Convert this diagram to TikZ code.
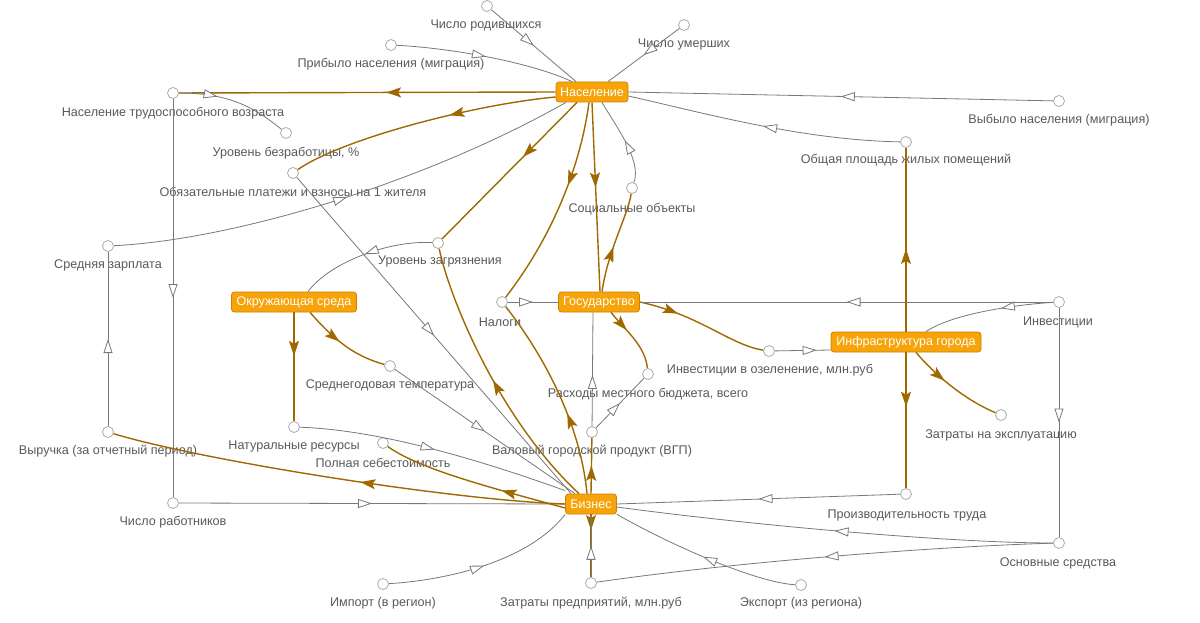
\documentclass[tikz,border=0pt]{standalone}
\usepackage{fontspec}
\setmainfont{Liberation Sans}
\usetikzlibrary{arrows.meta,decorations.markings}
\definecolor{brn}{RGB}{160,105,0}
\definecolor{org}{RGB}{247,163,10}
\definecolor{orgd}{RGB}{205,130,0}
\definecolor{gln}{RGB}{120,120,120}
\definecolor{txt}{RGB}{90,90,90}
\pgfdeclarelayer{bgl}
\pgfdeclarelayer{lines}
\pgfsetlayers{bgl,main,lines}
\tikzset{
 mainbox/.style={draw=orgd, fill=org, rounded corners=3pt, text=white, font=\fontsize{12.5}{14}\selectfont, minimum height=20pt, inner xsep=4pt, inner ysep=2pt, line width=0.8pt},
 var/.style={circle, draw=gray!65, fill=white, minimum size=11pt, inner sep=0pt, line width=0.8pt},
 lbl/.style={text=txt, font=\fontsize{12.6}{14}\selectfont, inner sep=1pt},
 flowln/.style={draw=brn, line width=1.4pt, postaction={decorate, decoration={markings, mark=at position #1 with {\arrow{Stealth[length=15pt,width=10pt,inset=3pt,color=brn]}}}}},
 flowln/.default=0.5,
 infl/.style={draw=gln, line width=0.8pt, postaction={decorate, decoration={markings, mark=at position #1 with {\arrow{Triangle[length=14pt,width=9pt,color=gln,fill=white]}}}}},
 infl/.default=0.5,
}
\begin{document}
\begin{tikzpicture}[x=1pt,y=-1pt]
\begin{pgfonlayer}{bgl}
\fill[white] (0,0) rectangle (1200,623);
\end{pgfonlayer}
\useasboundingbox (0,0) rectangle (1200,623);

% labels (lines are drawn over them)
\node[lbl] (lbir) at (486,25) {Число родившихся};
\node[lbl] (ldead) at (684,44) {Число умерших};
\node[lbl] (larr) at (391,64) {Прибыло населения (миграция)};
\node[lbl] (ltr) at (173,113) {Население трудоспособного возраста};
\node[lbl] (lunemp) at (286,153) {Уровень безработицы, \%};
\node[lbl] (ltax) at (293,192) {Обязательные платежи и взносы на 1 жителя};
\node[lbl] (ldep) at (1059,120) {Выбыло населения (миграция)};
\node[lbl] (larea) at (906,160) {Общая площадь жилых помещений};
\node[lbl] (lsoc) at (632,209) {Социальные объекты};
\node[lbl] (lsal) at (108,265) {Средняя зарплата};
\node[lbl] (lpoll) at (440,261) {Уровень загрязнения};
\node[lbl] (lnal) at (500,322) {Налоги};
\node[lbl] (linv) at (1058,322) {Инвестиции};
\node[lbl] (lgreen) at (770,370) {Инвестиции в озеленение, млн.руб};
\node[lbl] (lbud) at (648,394) {Расходы местного бюджета, всего};
\node[lbl] (loper) at (1001,435) {Затраты на эксплуатацию};
\node[lbl] (ltemp) at (390,385) {Среднегодовая температура};
\node[lbl] (lnat) at (294,446) {Натуральные ресурсы};
\node[lbl] (lcost) at (383,463) {Полная себестоимость};
\node[lbl] (lgdp) at (592,451) {Валовый городской продукт (ВГП)};
\node[lbl] (lrev) at (108,451) {Выручка (за отчетный период)};
\node[lbl] (lwork) at (173,522) {Число работников};
\node[lbl] (lprod) at (907,515) {Производительность труда};
\node[lbl] (lfix) at (1058,563) {Основные средства};
\node[lbl] (limp) at (383,603) {Импорт (в регион)};
\node[lbl] (lzp) at (591,603) {Затраты предприятий, млн.руб};
\node[lbl] (lexp) at (801,603) {Экспорт (из региона)};

% main nodes
\node[mainbox, minimum width=72pt] (nas) at (592,92) {Население};
\node[mainbox, minimum width=125pt] (env) at (294,302) {Окружающая среда};
\node[mainbox, minimum width=81pt] (gov) at (599,302) {Государство};
\node[mainbox, minimum width=150pt] (inf) at (906,342) {Инфраструктура города};
\node[mainbox, minimum width=51pt] (biz) at (591,504) {Бизнес};

% variables
\node[var] (vbir) at (487,6) {};
\node[var] (vdead) at (684,25) {};
\node[var] (varr) at (391,45) {};
\node[var] (vtr) at (173,93) {};
\node[var] (vunemp) at (286,133) {};
\node[var] (vtax) at (293,173) {};
\node[var] (vdep) at (1059,101) {};
\node[var] (varea) at (906,142) {};
\node[var] (vsoc) at (632,188) {};
\node[var] (vsal) at (108,246) {};
\node[var] (vpoll) at (438,243) {};
\node[var] (vnal) at (502,302) {};
\node[var] (vinv) at (1059,302) {};
\node[var] (vgreen) at (769,351) {};
\node[var] (vbud) at (648,374) {};
\node[var] (voper) at (1001,415) {};
\node[var] (vtemp) at (390,366) {};
\node[var] (vnat) at (294,427) {};
\node[var] (vcost) at (383,443) {};
\node[var] (vgdp) at (592,432) {};
\node[var] (vrev) at (108,432) {};
\node[var] (vwork) at (173,503) {};
\node[var] (vprod) at (906,494) {};
\node[var] (vfix) at (1059,543) {};
\node[var] (vimp) at (383,584) {};
\node[var] (vzp) at (591,583) {};
\node[var] (vexp) at (801,585) {};

\begin{pgfonlayer}{lines}
% into Население
\draw[infl=0.5] (vbir) -- ([xshift=-16pt]nas.north);
\draw[infl=0.5] (vdead) -- ([xshift=16pt]nas.north);
\draw[infl=0.5] (varr) .. controls (450,48) and (530,62) .. ([xshift=-20pt]nas.north);
\draw[infl=0.5] (vdep) -- (nas.east);
\draw[infl=0.5] (varea) .. controls (800,140) and (700,112) .. ([yshift=-4pt]nas.east);
\draw[infl=0.5] (vsoc) .. controls (642,160) and (615,125) .. ([xshift=10pt]nas.south);
\draw[infl=0.5] (vsal) .. controls (230,240) and (420,185) .. ([xshift=-26pt]nas.south);
% from Население
\draw[flowln=0.45] (nas.west) -- (vtr);
\draw[flowln=0.4] ([yshift=-5pt]nas.west) .. controls (470,105) and (340,140) .. (vtax);
\draw[flowln=0.45] (nas.south) -- ([xshift=1pt]gov.north);
\draw[flowln=0.4] ([xshift=-3pt]nas.south) .. controls (580,170) and (550,240) .. (vnal);
\draw[flowln=0.4] ([xshift=-15pt]nas.south) -- (vpoll);
% workforce
\draw[infl=0.35] (vtr) .. controls (230,93) and (255,108) .. (vunemp);
\draw[infl=0.5] (vtr) -- (vwork);
\draw[infl=0.5] (vwork) -- (biz.west);
\draw[infl=0.5] (vrev) -- (vsal);
\draw[flowln=0.45] (biz.west) .. controls (450,500) and (200,460) .. (vrev);
\draw[flowln=0.35] ([yshift=-4pt]biz.west) .. controls (500,490) and (420,470) .. (vcost);
% taxes payments
\draw[infl=0.5] (vtax) -- ([xshift=-20pt]biz.north);
% environment
\draw[flowln=0.4] (env.south) -- (vnat);
\draw[flowln=0.45] ([xshift=16pt]env.south) .. controls (330,335) and (350,355) .. (vtemp);
\draw[infl=0.5] (vtemp) -- ([xshift=-16pt]biz.north);
\draw[infl=0.5] (vnat) .. controls (380,430) and (480,460) .. ([yshift=3pt]biz.north west);
\draw[infl=0.5] (vpoll) .. controls (390,240) and (330,262) .. ([xshift=14pt]env.north);
\draw[flowln=0.5] ([xshift=-12pt]biz.north) .. controls (500,420) and (450,300) .. (vpoll);
% state
\draw[infl=0.5] (vnal) -- (gov.west);
\draw[flowln=0.4] ([xshift=-4pt]biz.north) .. controls (580,420) and (540,350) .. (vnal);
\draw[flowln=0.45] ([xshift=3pt]gov.north) .. controls (608,250) and (628,215) .. (vsoc);
\draw[flowln=0.3] (gov.east) .. controls (700,315) and (730,345) .. (vgreen);
\draw[flowln=0.35] ([xshift=12pt]gov.south) .. controls (625,330) and (645,345) .. (vbud);
\draw[infl=0.5] (vinv) -- (gov.east);
\draw[infl=0.45] (vgdp) -- ([xshift=-6pt]gov.south);
\draw[infl=0.5] (vgdp) -- (vbud);
\draw[flowln=0.5] (biz.north) -- (vgdp);
% infrastructure
\draw[infl=0.75] (vgreen) -- ([yshift=-8pt]inf.west);
\draw[infl=0.4] (vinv) .. controls (1010,305) and (950,315) .. ([xshift=20pt]inf.north);
\draw[flowln=0.45] (inf.north) -- (varea);
\draw[flowln=0.4] (inf.south) -- (vprod);
\draw[flowln=0.4] ([xshift=10pt]inf.south) .. controls (935,375) and (965,400) .. (voper);
\draw[infl=0.5] (vinv) -- (vfix);
% business
\draw[infl=0.5] (vprod) -- (biz.east);
\draw[infl=0.5] (vfix) .. controls (950,543) and (750,525) .. ([yshift=-3pt]biz.east);
\draw[infl=0.5] (vfix) .. controls (950,546) and (750,560) .. (vzp);
\draw[flowln=0.25] (biz.south) -- (vzp);
\draw[infl=0.5] (vzp) -- (biz.south);
\draw[infl=0.5] (vimp) .. controls (450,580) and (530,560) .. (biz.south west);
\draw[infl=0.5] (vexp) .. controls (760,583) and (680,550) .. (biz.south east);
\end{pgfonlayer}
\end{tikzpicture}
\end{document}
